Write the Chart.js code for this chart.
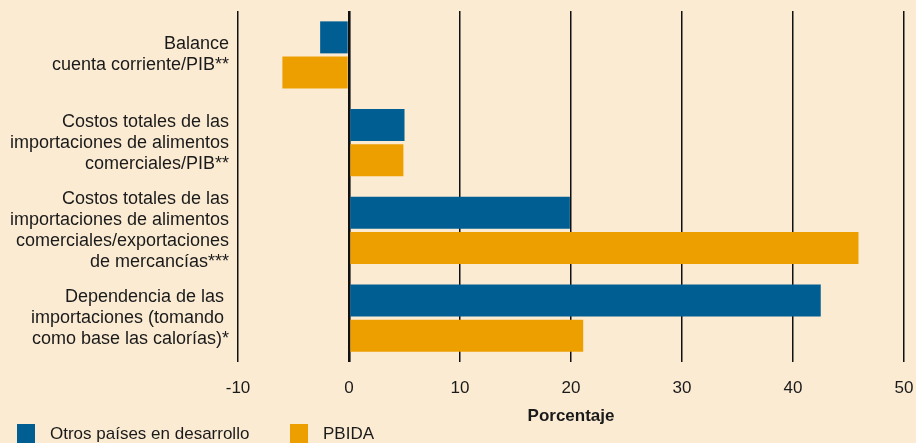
<!DOCTYPE html>
<html>
<head>
<meta charset="utf-8">
<script src="https://cdn.jsdelivr.net/npm/chart.js@4/dist/chart.umd.min.js"></script>
<style>
  html, body { margin: 0; padding: 0; background: #FBEBD3; }
  #wrap { width: 916px; height: 443px; position: relative; }
</style>
</head>
<body>
<div id="wrap"><canvas id="c" width="916" height="443"></canvas></div>
<script>
const categories = [
  ["Balance", "cuenta corriente/PIB**"],
  ["Costos totales de las", "importaciones de alimentos", "comerciales/PIB**"],
  ["Costos totales de las", "importaciones de alimentos", "comerciales/exportaciones", "de mercancías***"],
  ["Dependencia de las ", "importaciones (tomando ", "como base las calorías)*"]
];
const otrosPaises = [-2.6, 5.0, 19.9, 42.5];
const pbida = [-6.0, 4.9, 45.9, 21.1];
const seriesNames = ["Otros países en desarrollo", "PBIDA"];
const xTicks = [-10, 0, 10, 20, 30, 40, 50];
const xTitle = "Porcentaje";

const FONT = "'Liberation Sans', Arial, Helvetica, sans-serif";
const BLUE = "#005E92";
const ORANGE = "#EE9F00";
const BG = "#FBEBD3";

const bgPlugin = {
  id: 'bg',
  beforeDraw(chart) {
    const ctx = chart.ctx;
    ctx.save();
    ctx.fillStyle = BG;
    ctx.fillRect(0, 0, chart.width, chart.height);
    ctx.restore();
  }
};

const legendPlugin = {
  id: 'customLegend',
  afterDraw(chart) {
    const ctx = chart.ctx;
    const pos = [17, 290];
    ctx.save();
    chart.data.datasets.forEach((ds, i) => {
      ctx.fillStyle = ds.backgroundColor;
      ctx.fillRect(pos[i], 424, 18, 19);
      ctx.fillStyle = "#1a1a1a";
      ctx.font = "17px " + FONT;
      ctx.textBaseline = "middle";
      ctx.textAlign = "left";
      ctx.fillText(ds.label, pos[i] + 33, 434);
    });
    ctx.restore();
  }
};

new Chart(document.getElementById('c'), {
  type: 'bar',
  data: {
    labels: categories,
    datasets: [
      { label: seriesNames[0], data: otrosPaises, backgroundColor: BLUE, categoryPercentage: 0.798, barPercentage: 0.914 },
      { label: seriesNames[1], data: pbida, backgroundColor: ORANGE, categoryPercentage: 0.798, barPercentage: 0.914 }
    ]
  },
  options: {
    indexAxis: 'y',
    responsive: false,
    animation: false,
    layout: { padding: { top: 11, right: 12, left: 0, bottom: 16 } },
    plugins: {
      legend: { display: false },
      tooltip: { enabled: false }
    },
    scales: {
      x: {
        min: -10, max: 50,
        afterBuildTicks(scale) { scale.ticks = xTicks.map(v => ({ value: v })); },
        afterFit(scale) { scale.height = 65; scale.paddingLeft = 0; scale.paddingRight = 0; },
        border: { display: false },
        grid: {
          color: "#111111",
          lineWidth: ctx => (ctx.tick && ctx.tick.value === 0 ? 2.6 : 1.5),
          drawTicks: false
        },
        ticks: {
          color: "#1a1a1a",
          font: { family: FONT, size: 17 },
          padding: 16
        },
        title: {
          display: true,
          text: xTitle,
          color: "#1a1a1a",
          font: { family: FONT, size: 17, weight: 'bold' },
          padding: { top: 4, bottom: 0 }
        }
      },
      y: {
        afterFit(scale) { scale.width = 238; scale.paddingTop = 0; scale.paddingBottom = 0; },
        border: { display: false },
        grid: { display: false, drawTicks: false },
        ticks: {
          autoSkip: false,
          color: "#1a1a1a",
          font: { family: FONT, size: 18, lineHeight: '21px' },
          padding: 9
        }
      }
    }
  },
  plugins: [bgPlugin, legendPlugin]
});
</script>
</body>
</html>
